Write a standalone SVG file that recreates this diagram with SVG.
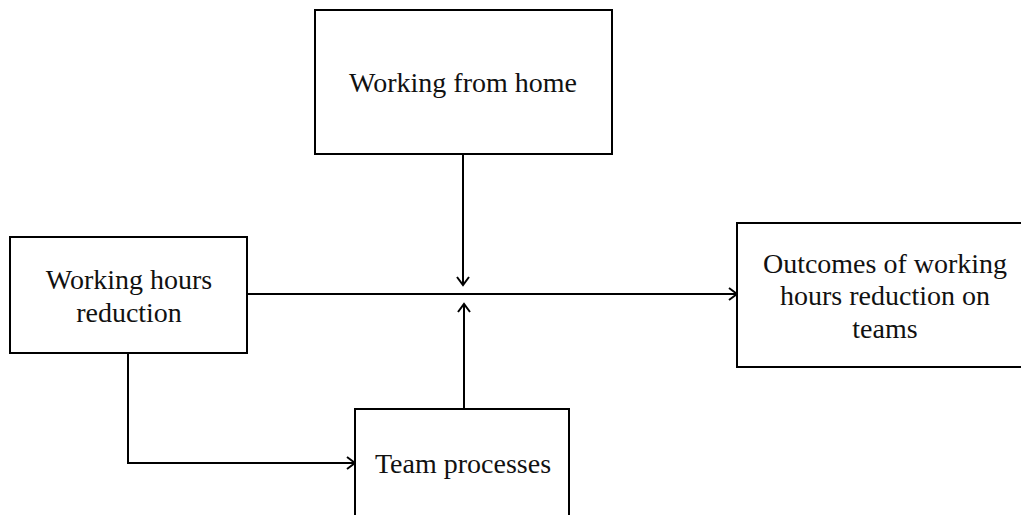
<svg xmlns="http://www.w3.org/2000/svg" width="1021" height="515" viewBox="0 0 1021 515">
<style>
.box{fill:#fff;stroke:#000;stroke-width:2}
.lbl{font-family:"Liberation Serif","Times New Roman",serif;font-size:28px;fill:#111;text-anchor:middle}
.ln{fill:none;stroke:#000;stroke-width:2}
</style>
<defs>
<marker id="arr" markerUnits="userSpaceOnUse" markerWidth="14" markerHeight="14" refX="10" refY="7" orient="auto">
<path d="M2,1 L10,7 L2,13" fill="none" stroke="#000" stroke-width="2"/>
</marker>
</defs>
<rect width="1021" height="515" fill="#fff"/>
<g id="connectors">
<line class="ln" x1="247" y1="294" x2="737" y2="294" marker-end="url(#arr)"/>
<line class="ln" x1="463" y1="154" x2="463" y2="285" marker-end="url(#arr)"/>
<line class="ln" x1="464" y1="409" x2="464" y2="304" marker-end="url(#arr)"/>
<polyline class="ln" points="128,353 128,463 355,463" marker-end="url(#arr)"/>
</g>
<g id="node-wfh">
<rect class="box" x="315" y="10" width="297" height="144"/>
<text class="lbl" x="463" y="92">Working from home</text>
</g>
<g id="node-whr">
<rect class="box" x="10" y="237" width="237" height="116"/>
<text class="lbl" x="129" y="289">Working hours</text>
<text class="lbl" x="129" y="322">reduction</text>
</g>
<g id="node-outcomes">
<rect class="box" x="737" y="223" width="296" height="144"/>
<text class="lbl" x="885" y="273">Outcomes of working</text>
<text class="lbl" x="885" y="305">hours reduction on</text>
<text class="lbl" x="885" y="338">teams</text>
</g>
<g id="node-team">
<rect class="box" x="355" y="409" width="214" height="120"/>
<text class="lbl" x="463" y="473">Team processes</text>
</g>
</svg>
